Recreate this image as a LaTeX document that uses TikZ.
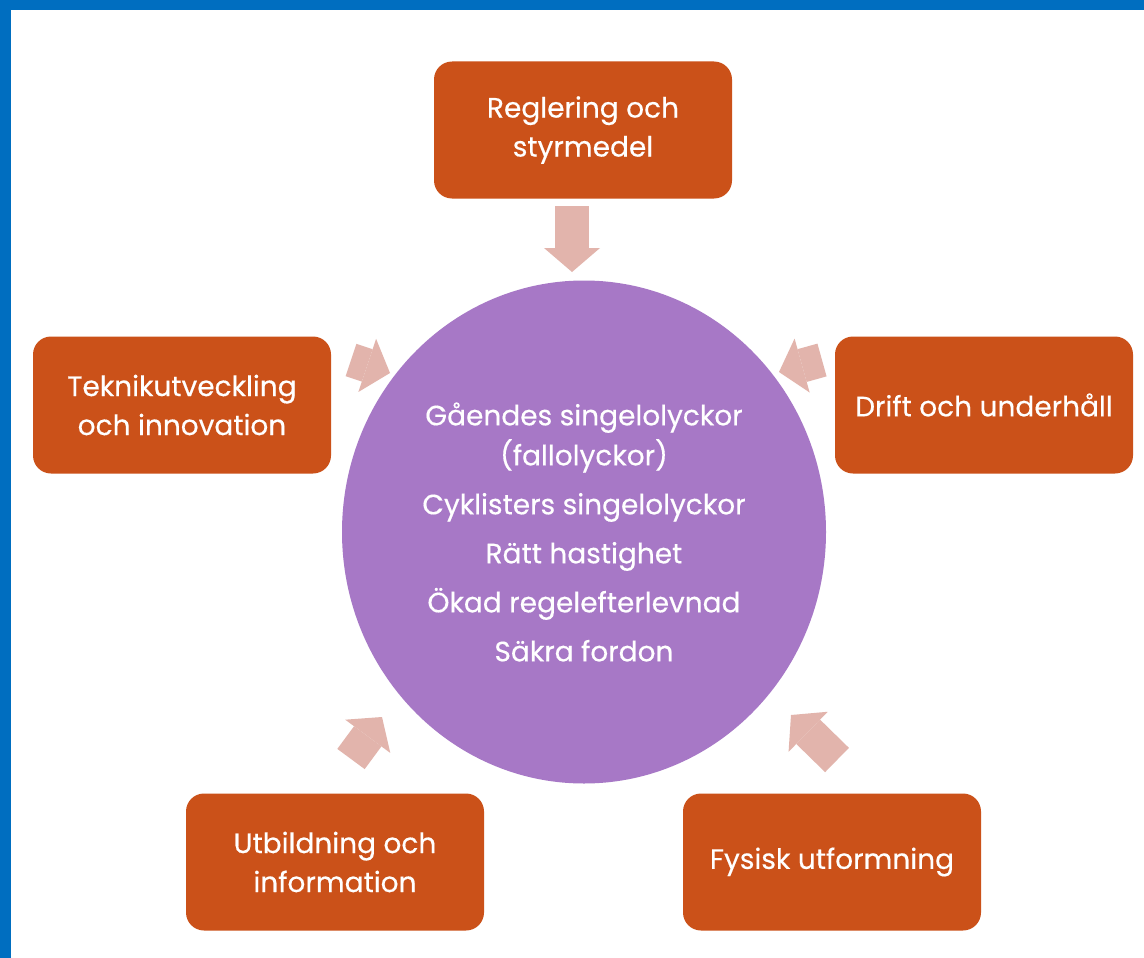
\documentclass[tikz,border=0pt]{standalone}
\usepackage{fontspec}
\setmainfont{Poppins}[FakeBold=0.4]
\usetikzlibrary{arrows.meta,shapes.geometric}
\definecolor{frameblue}{HTML}{006EC0}
\definecolor{boxorange}{HTML}{CB5119}
\definecolor{ringpurple}{HTML}{A778C6}
\definecolor{arrowpink}{HTML}{E2B4AC}

\begin{document}
\begin{tikzpicture}[x=1pt,y=-1pt,
	field/.style={fill=boxorange,rounded corners=18pt,minimum width=298pt,minimum height=137pt,inner sep=0pt,text=white,align=center,font=\fontsize{28}{39}\selectfont},
	feed/.style={draw=arrowpink,line width=34pt,-{Triangle[width=56pt,length=24pt,line width=0pt]}}]
	\useasboundingbox (0,0) rectangle (1144,958);
	% frame
	\fill[white] (0,0) rectangle (1144,958);
	\fill[frameblue] (0,0) rectangle (1144,10);
	\fill[frameblue] (0,0) rectangle (11,958);
	% boxes
	\node[field] (reg) at (583,130) {Reglering och\\styrmedel};
	\node[field] (tek) at (182,405) {Teknikutveckling\\och innovation};
	\node[field] (drift) at (984,405) {Drift och underhåll};
	\node[field] (utb) at (335,862) {Utbildning och\\information};
	\node[field] (fys) at (832,862) {Fysisk utformning};
	\node[ellipse,fill=ringpurple,minimum width=484pt,minimum height=503pt,inner sep=0pt,text=white,align=center,font=\fontsize{28}{40}\selectfont] (mal) at (584,532)
		{Gåendes singelolyckor\\(fallolyckor)\\[9pt]Cyklisters singelolyckor\\[9pt]Rätt hastighet\\[9pt]Ökad regelefterlevnad\\[9pt]Säkra fordon};
	% arrows
	\coordinate (regA) at (572,206);
	\coordinate (regB) at (572,272);
	\coordinate (tekA) at (351,360);
	\coordinate (tekB) at (390,373);
	\coordinate (driftA) at (822,360);
	\coordinate (driftB) at (779,372);
	\coordinate (utbA) at (351,759);
	\coordinate (utbB) at (382,717);
	\coordinate (fysA) at (837,760);
	\coordinate (fysB) at (791,715);
	\draw[feed] (regA) -- (regB);
	\draw[feed] (tekA) -- (tekB);
	\draw[feed] (driftA) -- (driftB);
	\draw[feed] (utbA) -- (utbB);
	\draw[feed] (fysA) -- (fysB);
\end{tikzpicture}
\end{document}
